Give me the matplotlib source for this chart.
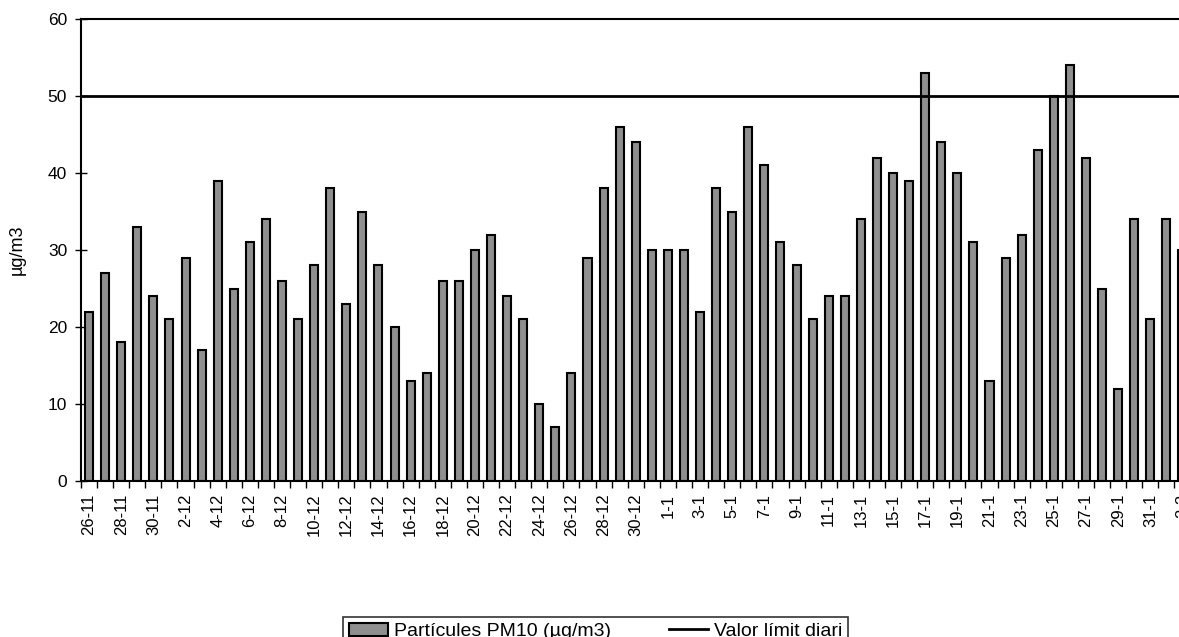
import matplotlib
matplotlib.use("Agg")
import matplotlib.pyplot as plt
import numpy as np

plt.rcParams['font.family'] = ['Liberation Sans', 'DejaVu Sans']

dates = (["26-11", "27-11", "28-11", "29-11", "30-11"]
         + [f"{d}-12" for d in range(1, 32)]
         + [f"{d}-1" for d in range(1, 32)]
         + ["1-2", "2-2"])
pm10 = [22, 27, 18, 33, 24,
        21, 29, 17, 39, 25, 31, 34, 26, 21, 28, 38, 23, 35, 28, 20, 13, 14, 26, 26,
        30, 32, 24, 21, 10, 7, 14, 29, 38, 46, 44, 30,
        30, 30, 22, 38, 35, 46, 41, 31, 28, 21, 24, 24, 34, 42, 40, 39, 53, 44, 40,
        31, 13, 29, 32, 43, 50, 54, 42, 25, 12, 34, 21,
        34, 30]
limit_value = 50
yticks = [0, 10, 20, 30, 40, 50, 60]

W, H = 1179, 637
fig = plt.figure(figsize=(W / 100, H / 100), dpi=100)
left_px, top_px, bottom_px = 81, 19, 481
right_px = 81 + 16.08 * len(dates)
ax = fig.add_axes([left_px / W, 1 - bottom_px / H,
                   (right_px - left_px) / W, (bottom_px - top_px) / H])

x = np.arange(len(dates))
bars = ax.bar(x, pm10, width=0.5, color='#8f8f8f', edgecolor='black',
              linewidth=1.5, label='Partícules PM10 (µg/m3)', zorder=2)
line = ax.axhline(limit_value, color='black', linewidth=2,
                  label='Valor límit diari', zorder=3)

ax.set_xlim(-0.5, len(dates) - 0.5)
ax.set_ylim(0, 60)
ax.set_yticks(yticks)
ax.set_yticklabels([str(v) for v in yticks], fontsize=12.5)
ax.tick_params(axis='y', direction='inout', length=8, width=1, pad=6)

ax.set_xticks(x[::2])
ax.set_xticklabels(dates[::2], rotation=90, fontsize=12)
ax.tick_params(axis='x', which='major', length=0, pad=9)
ax.set_xticks(np.arange(len(dates) + 1) - 0.5, minor=True)
ax.tick_params(axis='x', which='minor', direction='out', length=5, width=1)

for s in ['left', 'bottom', 'top']:
    ax.spines[s].set_linewidth(1.5)
ax.spines['right'].set_visible(False)

ax.set_ylabel('µg/m3', fontsize=13)
ax.yaxis.set_label_coords(-0.05, 0.5)

leg = fig.legend(handles=[bars, line], loc='upper center',
                 bbox_to_anchor=(0.505, 1 - 607 / H), ncol=2, frameon=True,
                 fancybox=False, edgecolor='black', fontsize=14,
                 columnspacing=3.0, handlelength=2.0, handletextpad=0.3,
                 borderpad=0.3)
leg.get_frame().set_linewidth(1.2)

fig.savefig('out.png', dpi=100)
